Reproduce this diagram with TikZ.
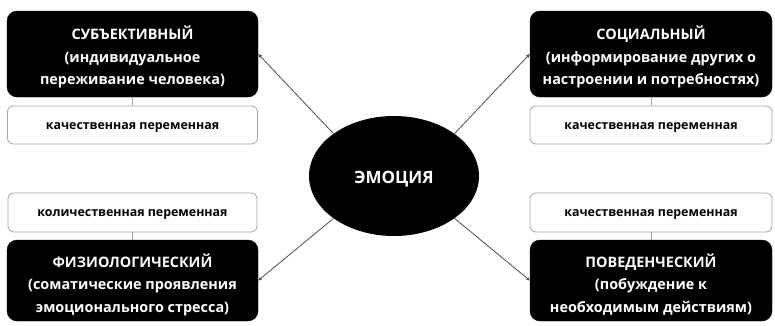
\documentclass[tikz,border=0pt]{standalone}
\usepackage{fontspec}
\setmainfont{Open Sans}[BoldFont={* Bold}]
\usetikzlibrary{arrows.meta,shapes.geometric}
\begin{document}
\begin{tikzpicture}[x=1pt,y=-1pt,
  blackbox/.style={fill=black,draw=black,rounded corners=10pt,inner sep=0pt},
  titletext/.style={text=white,font=\bfseries\fontsize{14.4}{22.5}\selectfont,align=center,inner sep=0pt},
  valbox/.style={fill=white,draw=gray!70,line width=0.8pt,rounded corners=6pt,inner sep=0pt},
  valtext/.style={font=\bfseries\fontsize{12.4}{15}\selectfont,align=center,inner sep=0pt},
  link/.style={draw=gray!70,line width=0.8pt},
  arr/.style={draw=gray!60!black,line width=0.8pt,-{Stealth[length=4pt,width=3.5pt]}}]
\useasboundingbox (0,0) rectangle (775,325);
% boxes
\node[blackbox,minimum width=251pt,minimum height=86pt] (sub) at (132.5,54) {};
\node[valbox,minimum width=250pt,minimum height=38pt] (subv) at (132.5,125) {};
\node[blackbox,minimum width=242pt,minimum height=86pt] (soc) at (651,54) {};
\node[valbox,minimum width=242pt,minimum height=38pt] (socv) at (651,125) {};
\node[valbox,minimum width=249pt,minimum height=39pt] (fizv) at (132.5,212.5) {};
\node[blackbox,minimum width=251pt,minimum height=81pt] (fiz) at (132.5,280.5) {};
\node[valbox,minimum width=242pt,minimum height=39pt] (povv) at (651,212.5) {};
\node[blackbox,minimum width=242pt,minimum height=81pt] (pov) at (651,280.5) {};
\node[ellipse,fill=black,minimum width=170pt,minimum height=120pt,inner sep=0pt] (emo) at (394,176) {};
% texts
\node[titletext] (subt) at ([yshift=-3pt]sub.center) {СУБЪЕКТИВНЫЙ\\(индивидуальное\\переживание человека)};
\node[titletext] (soct) at ([yshift=-3pt]soc.center) {СОЦИАЛЬНЫЙ\\(информирование других о\\настроении и потребностях)};
\node[titletext] (fizt) at ([yshift=-4pt]fiz.center) {ФИЗИОЛОГИЧЕСКИЙ\\(соматические проявления\\эмоционального стресса)};
\node[titletext] (povt) at ([yshift=-4pt]pov.center) {ПОВЕДЕНЧЕСКИЙ\\(побуждение к\\необходимым действиям)};
\node[valtext] (subvt) at ([yshift=-2.5pt]subv.center) {качественная переменная};
\node[valtext] (socvt) at ([yshift=-2.5pt]socv.center) {качественная переменная};
\node[valtext] (fizvt) at ([yshift=-2.5pt]fizv.center) {количественная переменная};
\node[valtext] (povvt) at ([yshift=-2.5pt]povv.center) {качественная переменная};
\node[text=white,font=\bfseries\fontsize{17}{22}\selectfont,inner sep=0pt] (emot) at ([yshift=-3pt]emo.center) {ЭМОЦИЯ};
% connectors
\draw[link] (sub) -- (subv);
\draw[link] (soc) -- (socv);
\draw[link] (fizv) -- (fiz);
\draw[link] (povv) -- (pov);
\draw[arr] (emo.145) -- (sub.east);
\draw[arr] (emo.35) -- (soc.west);
\draw[arr] (emo.215) -- (fiz.east);
\draw[arr] (emo.325) -- (pov.west);
\end{tikzpicture}
\end{document}
